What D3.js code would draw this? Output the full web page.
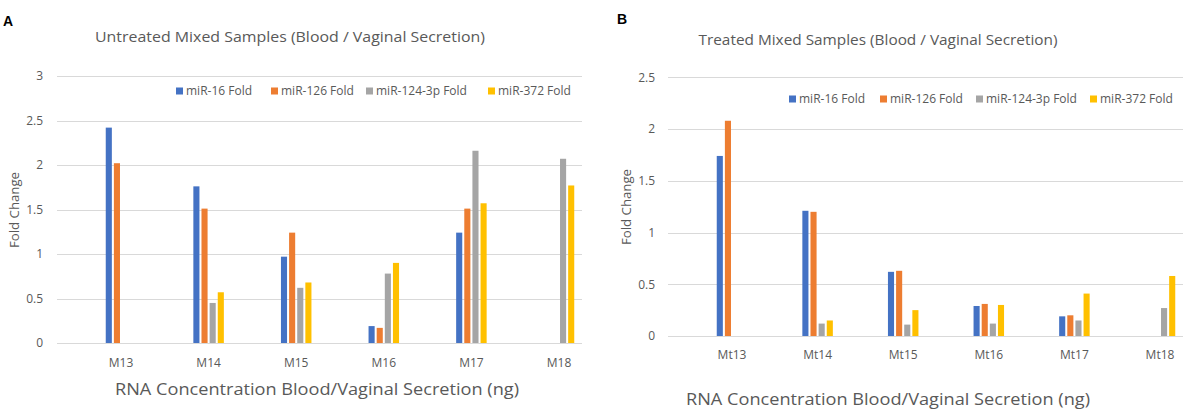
<!DOCTYPE html>
<html>
<head>
<meta charset="utf-8">
<script src="https://cdn.jsdelivr.net/npm/d3@7"></script>
<style>
  html, body { margin: 0; padding: 0; background: #fff; }
  svg { display: block; font-family: "Open Sans", sans-serif; }
</style>
</head>
<body>
<svg id="chart" width="1183" height="417"></svg>
<script>
// ---- Data ----
const seriesNames = ["miR-16 Fold", "miR-126 Fold", "miR-124-3p Fold", "miR-372 Fold"];
const seriesColors = ["#4472C4", "#ED7D31", "#A5A5A5", "#FFC000"];

const untreatedCategories = ["M13", "M14", "M15", "M16", "M17", "M18"];
const untreatedMiR16  = [2.42, 1.76, 0.97, 0.19, 1.24, 0];
const untreatedMiR126 = [2.02, 1.51, 1.24, 0.17, 1.51, 0];
const untreatedMiR124 = [0, 0.45, 0.62, 0.78, 2.16, 2.07];
const untreatedMiR372 = [0, 0.57, 0.68, 0.90, 1.57, 1.77];
const untreatedTicks  = [0, 0.5, 1, 1.5, 2, 2.5, 3];

const treatedCategories = ["Mt13", "Mt14", "Mt15", "Mt16", "Mt17", "Mt18"];
const treatedMiR16  = [1.74, 1.21, 0.62, 0.29, 0.19, 0];
const treatedMiR126 = [2.08, 1.20, 0.63, 0.31, 0.20, 0];
const treatedMiR124 = [0, 0.12, 0.11, 0.12, 0.15, 0.27];
const treatedMiR372 = [0, 0.15, 0.25, 0.30, 0.41, 0.58];
const treatedTicks  = [0, 0.5, 1, 1.5, 2, 2.5];

const svg = d3.select("#chart");
const textColor = "#595959";

function drawPanel(cfg) {
  const g = svg.append("g");
  const series = [cfg.s1, cfg.s2, cfg.s3, cfg.s4];
  const rows = cfg.categories.map((c, i) => ({
    cat: c,
    vals: series.map((s, j) => ({ key: seriesNames[j], value: s[i], color: seriesColors[j] }))
  }));

  const y = d3.scaleLinear().domain([0, cfg.yMax]).range([cfg.y0, cfg.yTop]);
  const x = d3.scaleBand().domain(cfg.categories).range(cfg.xRange).paddingInner(0).paddingOuter(0);
  const groupW = cfg.groupW;
  const xs = d3.scaleBand().domain(seriesNames).range([0, groupW]).paddingInner(0.25).paddingOuter(0);

  // gridlines
  g.append("g").selectAll("line").data(cfg.ticks).join("line")
    .attr("x1", cfg.gridX0).attr("x2", cfg.gridX1)
    .attr("y1", d => Math.round(y(d)) + 0.5).attr("y2", d => Math.round(y(d)) + 0.5)
    .attr("stroke", "#D9D9D9").attr("stroke-width", 1);

  // y axis labels
  const ya = g.append("g").attr("transform", `translate(${cfg.gridX0},0)`)
    .call(d3.axisLeft(y).tickValues(cfg.ticks).tickSize(0).tickPadding(cfg.yPad).tickFormat(d3.format("~g")));
  ya.select(".domain").remove();
  ya.selectAll("text").attr("fill", textColor).style("font-size", "12px").style("font-family", "Open Sans");

  // bars
  const grp = g.append("g").selectAll("g").data(rows).join("g")
    .attr("transform", d => `translate(${x(d.cat) + x.bandwidth() / 2 - groupW / 2},0)`);
  grp.selectAll("rect").data(d => d.vals).join("rect")
    .attr("x", d => xs(d.key))
    .attr("width", xs.bandwidth())
    .attr("y", d => y(d.value))
    .attr("height", d => y(0) - y(d.value))
    .attr("fill", d => d.color);

  // x axis labels
  const xa = g.append("g").attr("transform", `translate(0,${y(0)})`)
    .call(d3.axisBottom(x).tickSize(0).tickPadding(cfg.xPad));
  xa.select(".domain").remove();
  xa.selectAll("text").attr("fill", textColor).style("font-size", "12px").style("font-family", "Open Sans");

  // title
  g.append("text").attr("x", cfg.titleX).attr("y", cfg.titleY).attr("dy", "0.35em")
    .attr("text-anchor", "middle").attr("fill", textColor)
    .style("font-size", "15px")
    .attr("textLength", cfg.titleLen).attr("lengthAdjust", "spacingAndGlyphs")
    .text(cfg.title);

  // x axis title
  g.append("text").attr("x", cfg.xTitleX).attr("y", cfg.xTitleY).attr("dy", "0.35em")
    .attr("text-anchor", "middle").attr("fill", textColor)
    .style("font-size", "17px")
    .attr("textLength", 404).attr("lengthAdjust", "spacingAndGlyphs")
    .text("RNA Concentration Blood/Vaginal Secretion (ng)");

  // y axis title
  g.append("text")
    .attr("transform", `translate(${cfg.yTitleX},${cfg.yTitleY}) rotate(-90)`)
    .attr("dy", "0.35em").attr("text-anchor", "middle").attr("fill", textColor)
    .style("font-size", "13px")
    .attr("textLength", 76).attr("lengthAdjust", "spacingAndGlyphs")
    .text("Fold Change");

  // legend
  const lg = g.append("g").selectAll("g").data(seriesNames).join("g")
    .attr("transform", (d, i) => `translate(${cfg.legendX[i]},${cfg.legendY})`);
  lg.append("rect").attr("x", 0).attr("y", -3.5).attr("width", 7).attr("height", 7)
    .attr("fill", (d, i) => seriesColors[i]);
  lg.append("text").attr("x", 10).attr("dy", "0.35em").attr("fill", textColor)
    .style("font-size", "12px").text(d => d);

  // panel letter
  g.append("text").attr("x", cfg.letterX).attr("y", cfg.letterY).attr("dy", "0.35em")
    .style("font-family", "Liberation Sans, Arial, sans-serif").style("font-weight", "bold")
    .style("font-size", "14px").attr("fill", "#000").text(cfg.letter);
}

drawPanel({
  categories: untreatedCategories,
  s1: untreatedMiR16, s2: untreatedMiR126, s3: untreatedMiR124, s4: untreatedMiR372,
  yMax: 3, ticks: untreatedTicks, y0: 343, yTop: 76,
  xRange: [77.2, 602.8], groupW: 30.5,
  gridX0: 57, gridX1: 582, yPad: 14, xPad: 15,
  title: "Untreated Mixed Samples (Blood / Vaginal Secretion)",
  titleX: 290, titleY: 37, titleLen: 390,
  xTitleX: 317, xTitleY: 389,
  yTitleX: 14, yTitleY: 210,
  legendX: [176, 271, 366, 488], legendY: 91,
  letter: "A", letterX: 3, letterY: 21
});

drawPanel({
  categories: treatedCategories,
  s1: treatedMiR16, s2: treatedMiR126, s3: treatedMiR124, s4: treatedMiR372,
  yMax: 2.5, ticks: treatedTicks, y0: 336, yTop: 77.3,
  xRange: [689.2, 1202.8], groupW: 30.5,
  gridX0: 668, gridX1: 1183, yPad: 13, xPad: 14,
  title: "Treated Mixed Samples (Blood / Vaginal Secretion)",
  titleX: 878, titleY: 40, titleLen: 359,
  xTitleX: 888, xTitleY: 399,
  yTitleX: 626, yTitleY: 207,
  legendX: [789, 880, 976, 1090], legendY: 99,
  letter: "B", letterX: 617, letterY: 19
});
</script>
</body>
</html>
